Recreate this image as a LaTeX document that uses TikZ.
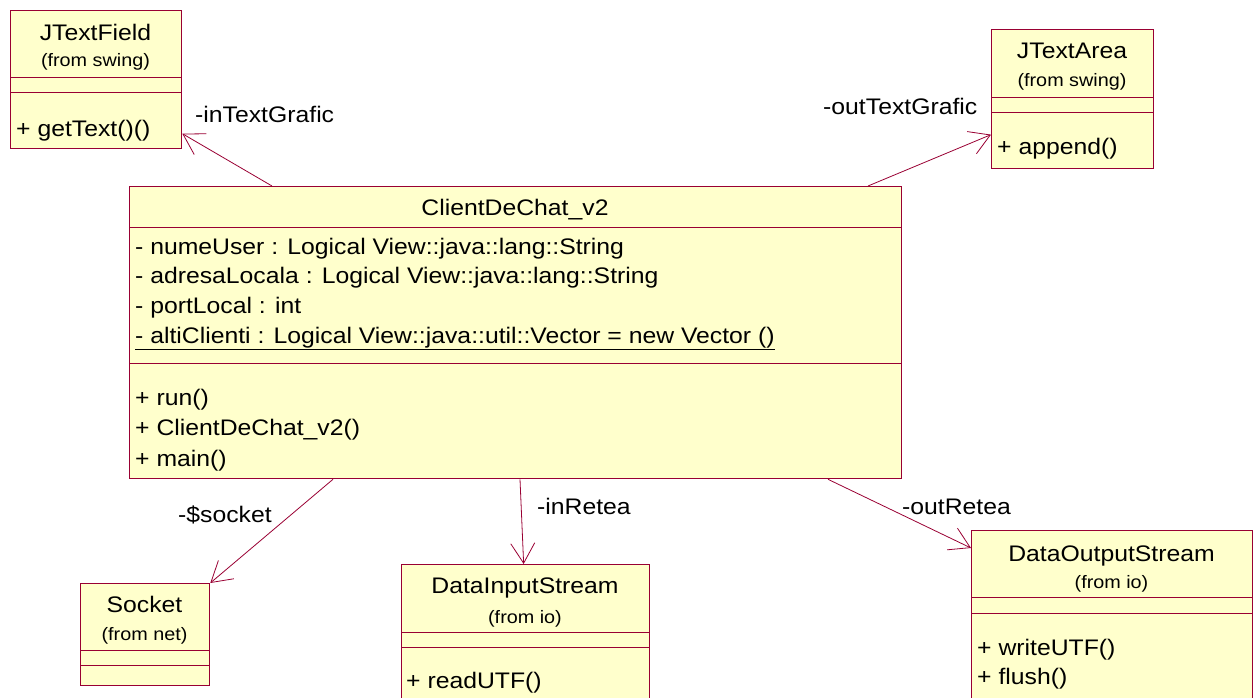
\documentclass[tikz,border=0pt]{standalone}
\usepackage{fontspec}
\setmainfont{Liberation Sans}[FakeStretch=1.1]
\usepackage{xcolor}
\usetikzlibrary{arrows.meta,positioning}

\definecolor{umlred}{RGB}{153,0,51}
\definecolor{umlfill}{RGB}{255,255,204}
\newcommand{\clsfont}{\fontsize{22.5}{27}\selectfont}
\newcommand{\pkgfont}{\fontsize{18}{22}\selectfont}

\tikzset{
  classbox/.style={draw=umlred, line width=1.3pt, fill=umlfill, anchor=north west, inner sep=0pt},
  compline/.style={draw=umlred, line width=0.9pt},
  clsname/.style={anchor=base, inner sep=0pt, font=\clsfont},
  pkgname/.style={anchor=base, inner sep=0pt, font=\pkgfont},
  member/.style={anchor=base west, inner sep=0pt, font=\clsfont},
  rolename/.style={anchor=base west, inner sep=0pt, font=\clsfont},
  assoc/.style={draw=umlred, line width=0.8pt, -{Straight Barb[length=20pt,width=24pt,line width=0.8pt]}}
}

\begin{document}
\begin{tikzpicture}[x=1pt, y=-1pt]
  \useasboundingbox (0,0) rectangle (1253,698);
  \clip (0,0) rectangle (1253,698);
  % --- JTextField ---
  \node[classbox, minimum width=171pt, minimum height=138pt] (jtf) at (10,10) {};
  \draw[compline] (10,77) -- (181,77);
  \draw[compline] (10,92) -- (181,92);
  \node[clsname] (jtfname) at (95.5,41) {JTextField};
  \node[pkgname] (jtfpkg) at (95.5,67) {(from swing)};
  \node[member] (jtfm1) at (16,137) {+ getText()()};
  % --- JTextArea ---
  \node[classbox, minimum width=162pt, minimum height=139pt] (jta) at (991,29) {};
  \draw[compline] (991,97) -- (1153,97);
  \draw[compline] (991,112) -- (1153,112);
  \node[clsname] (jtaname) at (1072,59) {JTextArea};
  \node[pkgname] (jtapkg) at (1072,87) {(from swing)};
  \node[member] (jtam1) at (997,154) {+ append()};
  % --- ClientDeChat_v2 ---
  \node[classbox, minimum width=772pt, minimum height=292pt] (cdc) at (129,186) {};
  \draw[compline] (129,227) -- (901,227);
  \draw[compline] (129,363) -- (901,363);
  \node[clsname] (cdcname) at (515,215) {ClientDeChat\_v2};
  \node[member] (cdca1) at (135,254) {- numeUser : Logical View::java::lang::String};
  \node[member] (cdca2) at (135,283) {- adresaLocala : Logical View::java::lang::String};
  \node[member] (cdca3) at (135,313) {- portLocal : int};
  \node[member] (cdca4) at (135,343) {\underline{- altiClienti : Logical View::java::util::Vector = new Vector ()}};
  \node[member] (cdcm1) at (135,405) {+ run()};
  \node[member] (cdcm2) at (135,435) {+ ClientDeChat\_v2()};
  \node[member] (cdcm3) at (135,466) {+ main()};
  % --- Socket ---
  \node[classbox, minimum width=129pt, minimum height=102pt] (sock) at (80,583) {};
  \draw[compline] (80,650) -- (209,650);
  \draw[compline] (80,665) -- (209,665);
  \node[clsname] (sockname) at (144.5,612) {Socket};
  \node[pkgname] (sockpkg) at (144.5,640) {(from net)};
  % --- DataInputStream ---
  \node[classbox, minimum width=248pt, minimum height=150pt] (dis) at (401,564) {};
  \draw[compline] (401,632) -- (649,632);
  \draw[compline] (401,647) -- (649,647);
  \node[clsname] (disname) at (525,593) {DataInputStream};
  \node[pkgname] (dispkg) at (525,623) {(from io)};
  \node[member] (dism1) at (406,688) {+ readUTF()};
  % --- DataOutputStream ---
  \node[classbox, minimum width=281pt, minimum height=180pt] (dos) at (971,530) {};
  \draw[compline] (971,597) -- (1252,597);
  \draw[compline] (971,613) -- (1252,613);
  \node[clsname] (dosname) at (1111.5,561) {DataOutputStream};
  \node[pkgname] (dospkg) at (1111.5,588) {(from io)};
  \node[member] (dosm1) at (977,655) {+ writeUTF()};
  \node[member] (dosm2) at (977,684) {+ flush()};
  % --- Associations ---
  \draw[assoc] ([xshift=143pt]cdc.north west) -- ([yshift=-54pt]jtf.east);
  \draw[assoc] ([xshift=739pt]cdc.north west) -- ([yshift=-35.5pt]jta.west);
  \draw[assoc] ([xshift=204pt]cdc.south west) -- (sock.north east);
  \draw[assoc] ([xshift=391pt]cdc.south west) -- ([xshift=-2pt]dis.north);
  \draw[assoc] ([xshift=699pt]cdc.south west) -- ([yshift=-18pt]dos.north west);
  % Role names
  \node[rolename] (rinText) at (195,123) {-inTextGrafic};
  \node[rolename] (routText) at (823,115) {-outTextGrafic};
  \node[rolename] (rsock) at (178,522) {-\$socket};
  \node[rolename] (rinRet) at (537,514) {-inRetea};
  \node[rolename] (routRet) at (902,514) {-outRetea};
\end{tikzpicture}
\end{document}
